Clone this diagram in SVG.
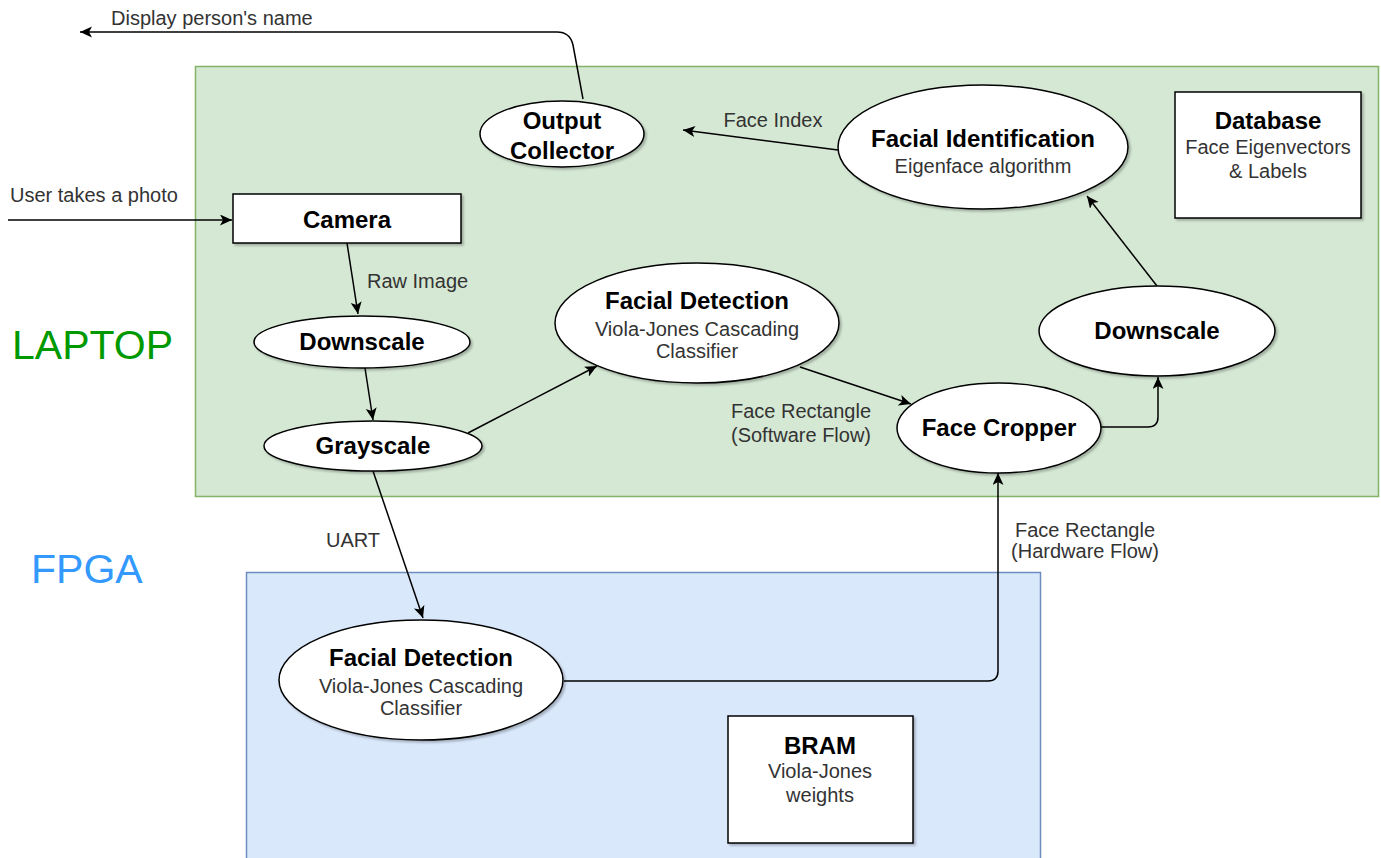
<svg xmlns="http://www.w3.org/2000/svg" width="1381" height="858" viewBox="0 0 1381 858">
<defs>
<style>
.b{font-family:"Liberation Sans",Arial,sans-serif;font-weight:bold;font-size:24px;fill:#000;text-anchor:middle}
.r{font-family:"Liberation Sans",Arial,sans-serif;font-size:20px;fill:#333;text-anchor:middle}
.l{font-family:"Liberation Sans",Arial,sans-serif;font-size:20px;fill:#333}
.n{fill:#fff;stroke:#000;stroke-width:1.5;filter:url(#sh)}
.c{fill:none;stroke:#000;stroke-width:1.5}
.big{font-family:"Liberation Sans",Arial,sans-serif;font-size:41px}
</style>
<filter id="sh" x="-10%" y="-10%" width="130%" height="130%">
<feDropShadow dx="2" dy="2" stdDeviation="1" flood-color="#000" flood-opacity="0.25"/>
</filter>
<marker id="a" markerWidth="14" markerHeight="12" refX="12" refY="5.5" orient="auto" markerUnits="userSpaceOnUse">
<path d="M0,0 L12,5.5 L0,11 L3,5.5 Z" fill="#000"/>
</marker>
</defs>

<g id="laptop">
<rect x="195.5" y="66.5" width="1183" height="430" fill="#d5e8d4" stroke="#82b366" stroke-width="1.5"/>
<text class="big" x="12" y="359" fill="#009900">LAPTOP</text>
</g>
<g id="fpga">
<rect x="246.5" y="572.5" width="794" height="300" fill="#dae8fc" stroke="#6c8ebf" stroke-width="1.5"/>
<text class="big" x="31" y="583" fill="#3399ff">FPGA</text>
</g>

<g id="connectors">
<path class="c" d="M583,99 L573,45 Q570,32 557,32 L80,32" marker-end="url(#a)"/>
<text class="l" x="111" y="25">Display person's name</text>
<path class="c" d="M8,220 L232,220" marker-end="url(#a)"/>
<text class="l" x="10" y="202">User takes a photo</text>
<path class="c" d="M347,243 L358,314" marker-end="url(#a)"/>
<text class="l" x="367" y="288">Raw Image</text>
<path class="c" d="M365,368 L373,420" marker-end="url(#a)"/>
<path class="c" d="M468,433 L597,366" marker-end="url(#a)"/>
<path class="c" d="M800,367 L911,404" marker-end="url(#a)"/>
<text class="r" x="801" y="418">Face Rectangle</text>
<text class="r" x="801" y="442">(Software Flow)</text>
<path class="c" d="M1100,427 L1148,427 Q1158,427 1158,417 L1158,377" marker-end="url(#a)"/>
<path class="c" d="M1157,286 L1087,196" marker-end="url(#a)"/>
<path class="c" d="M838,150 L683,130" marker-end="url(#a)"/>
<text class="r" x="773" y="127">Face Index</text>
<path class="c" d="M373,471 L423,618" marker-end="url(#a)"/>
<text class="r" x="353" y="547">UART</text>
<path class="c" d="M564,681 L988,681 Q998,681 998,671 L998,473" marker-end="url(#a)"/>
<text class="r" x="1085" y="537">Face Rectangle</text>
<text class="r" x="1085" y="558">(Hardware Flow)</text>
</g>

<g id="camera">
<rect class="n" x="233" y="194" width="228" height="49"/>
<text class="b" x="347" y="228">Camera</text>
</g>
<g id="output-collector">
<ellipse class="n" cx="562" cy="134" rx="82" ry="33"/>
<text class="b" x="562" y="129">Output</text>
<text class="b" x="562" y="159">Collector</text>
</g>
<g id="facial-identification">
<ellipse class="n" cx="983" cy="147" rx="145" ry="62"/>
<text class="b" x="983" y="147">Facial Identification</text>
<text class="r" x="983" y="173">Eigenface algorithm</text>
</g>
<g id="database">
<rect class="n" x="1175" y="92" width="186" height="126"/>
<text class="b" x="1268" y="129">Database</text>
<text class="r" x="1268" y="154">Face Eigenvectors</text>
<text class="r" x="1268" y="178">&amp; Labels</text>
</g>
<g id="downscale-1">
<ellipse class="n" cx="362" cy="342" rx="108" ry="26"/>
<text class="b" x="362" y="350">Downscale</text>
</g>
<g id="grayscale">
<ellipse class="n" cx="373" cy="446" rx="109" ry="25"/>
<text class="b" x="373" y="454">Grayscale</text>
</g>
<g id="facial-detection-sw">
<ellipse class="n" cx="697" cy="323" rx="142" ry="60"/>
<text class="b" x="697" y="309">Facial Detection</text>
<text class="r" x="697" y="336">Viola-Jones Cascading</text>
<text class="r" x="697" y="358">Classifier</text>
</g>
<g id="face-cropper">
<ellipse class="n" cx="999" cy="428" rx="102" ry="45"/>
<text class="b" x="999" y="436">Face Cropper</text>
</g>
<g id="downscale-2">
<ellipse class="n" cx="1157" cy="331" rx="118" ry="45"/>
<text class="b" x="1157" y="339">Downscale</text>
</g>
<g id="facial-detection-hw">
<ellipse class="n" cx="421" cy="680" rx="142" ry="60"/>
<text class="b" x="421" y="666">Facial Detection</text>
<text class="r" x="421" y="693">Viola-Jones Cascading</text>
<text class="r" x="421" y="715">Classifier</text>
</g>
<g id="bram">
<rect class="n" x="728" y="716" width="185" height="127"/>
<text class="b" x="820" y="754">BRAM</text>
<text class="r" x="820" y="778">Viola-Jones</text>
<text class="r" x="820" y="802">weights</text>
</g>
</svg>
